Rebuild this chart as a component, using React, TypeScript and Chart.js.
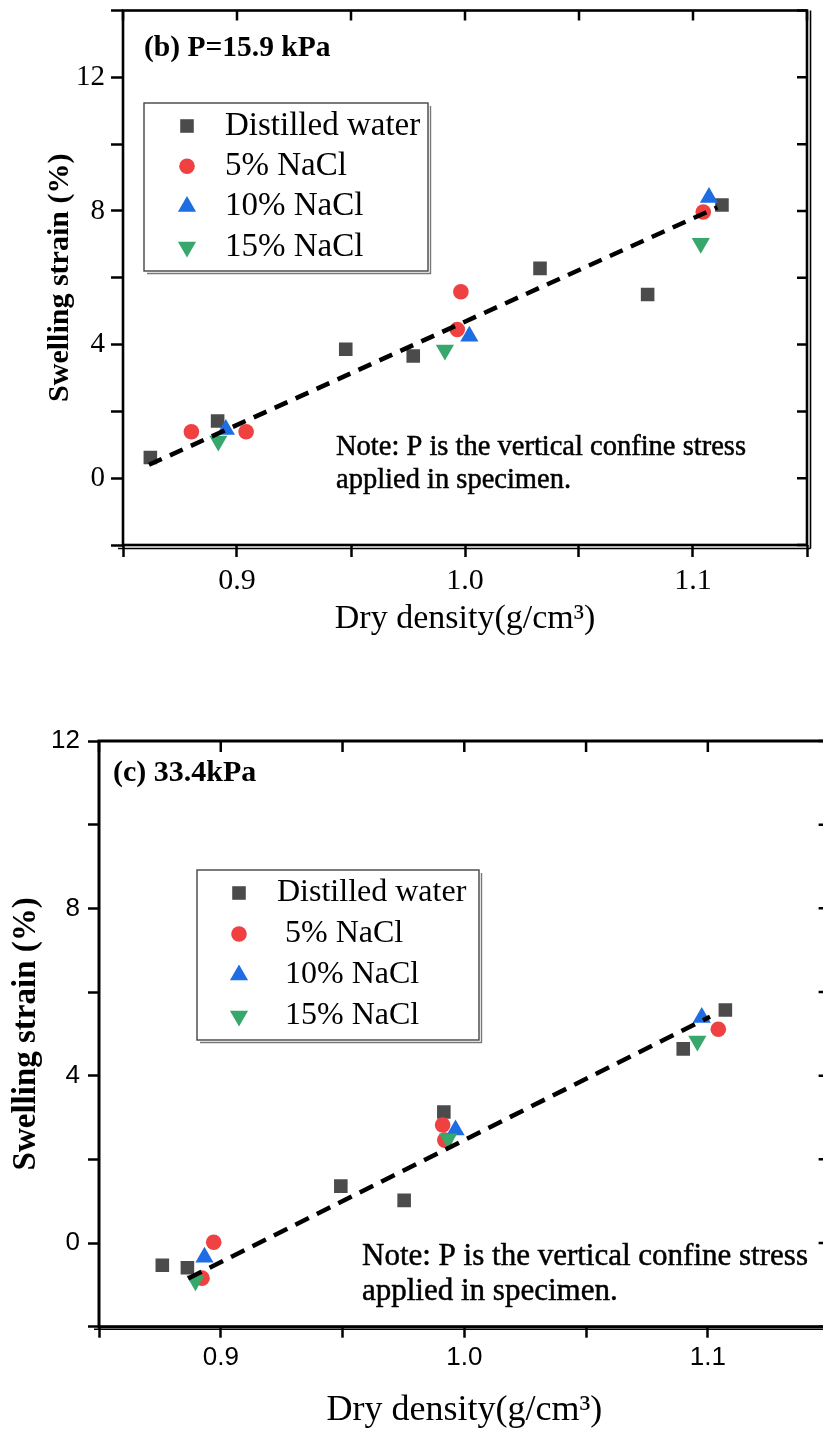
import React, { useEffect, useRef } from 'react';
import { Chart, registerables } from 'chart.js';

Chart.register(...registerables);

// ---------- Panel (b) P = 15.9 kPa ----------
const B_DW_X = [0.862, 0.8915, 0.9477, 0.9773, 1.0329, 1.0801, 1.1127];
const B_DW_Y = [0.62, 1.71, 3.86, 3.66, 6.28, 5.5, 8.18];
const B_N5_X = [0.880, 0.904, 0.9966, 0.9982, 1.1045];
const B_N5_Y = [1.39, 1.39, 4.45, 5.58, 7.97];
const B_N10_X = [0.8951, 1.0019, 1.107];
const B_N10_Y = [1.46, 4.25, 8.4];
const B_N15_X = [0.8918, 0.9912, 1.1034];
const B_N15_Y = [1.11, 3.84, 7.03];
const B_FIT_X = [0.8614, 1.1107];
const B_FIT_Y = [0.4, 8.11];
const B_LABELS = ['Distilled water', '5% NaCl', '10% NaCl', '15% NaCl'];

// ---------- Panel (c) 33.4 kPa ----------
const C_DW_X = [0.876, 0.8863, 0.9493, 0.9753, 0.9916, 1.0899, 1.1072];
const C_DW_Y = [-0.53, -0.59, 1.36, 1.02, 3.13, 4.64, 5.57];
const C_N5_X = [0.8923, 0.8971, 0.9911, 0.992, 1.1043];
const C_N5_Y = [-0.84, 0.02, 2.82, 2.46, 5.11];
const C_N10_X = [0.8933, 0.9964, 1.0975];
const C_N10_Y = [-0.34, 2.7, 5.39];
const C_N15_X = [0.8896, 0.9934, 1.0957];
const C_N15_Y = [-0.9, 2.49, 4.83];
const C_FIT_X = [0.8866, 1.1009];
const C_FIT_Y = [-0.85, 5.41];
const C_LABELS = ['Distilled water', ' 5% NaCl', ' 10% NaCl', ' 15% NaCl'];

// ---------- Axis ticks ----------
const X_MIN = 0.85;
const X_MAX = 1.15;
const X_STEP = 0.05;
const X_TICK_LABELS = ['0.9', '1.0', '1.1'];
const Y_STEP = 2;
const Y_TICK_LABELS = [0, 4, 8, 12];

const X_TITLE = 'Dry density(g/cm³)';
const Y_TITLE = 'Swelling strain (%)';
const NOTE_LINES = ['Note: P is the vertical confine stress', 'applied in specimen.'];

// ---------- styles ----------
const MARKERS = [
  { style: 'rect', radius: 9.6, rotation: 0, color: '#4b4b4b' },
  { style: 'circle', radius: 7.8, rotation: 0, color: '#ef4141' },
  { style: 'triangle', radius: 10.5, rotation: 0, color: '#1e6de2' },
  { style: 'triangle', radius: 10.5, rotation: 180, color: '#37a76b' },
];

const SERIF = '"Liberation Serif", "Times New Roman", serif';
const SANS = '"Liberation Sans", Arial, sans-serif';

type Panel = {
  w: number; h: number;
  area: { left: number; top: number; right: number; bottom: number };
  yMin: number; yMax: number;
  series: { x: number[]; y: number[] }[];
  labels: string[];
  fitX: number[]; fitY: number[];
  dash: number[];
  tickFont: { family: string; size: number };
  xTickFont: { family: string; size: number };
  yTickPad: number; xTickPad: number; outTick: number; inTick: number;
  xTitleSize: number; xTitlePadBottom: number;
  yTitleSize: number; yTitlePadTop: number;
  frameWidth: number; shadow: number;
  panelLabel: string; panelFont: string; panelX: number; panelY: number;
  legend: { x: number; y: number; w: number; h: number; markerX: number; textX: number; rowY: number; gap: number; font: string };
  note: { x: number; y: number; gap: number; font: string };
};

const PANEL_B: Panel = {
  w: 823, h: 660,
  area: { left: 123, top: 7, right: 807, bottom: 545 },
  yMin: -2, yMax: 14,
  series: [
    { x: B_DW_X, y: B_DW_Y },
    { x: B_N5_X, y: B_N5_Y },
    { x: B_N10_X, y: B_N10_Y },
    { x: B_N15_X, y: B_N15_Y },
  ],
  labels: B_LABELS,
  fitX: B_FIT_X, fitY: B_FIT_Y,
  dash: [14, 9],
  tickFont: { family: SERIF, size: 29 },
  xTickFont: { family: SERIF, size: 30 },
  yTickPad: 6, xTickPad: 6, outTick: 12, inTick: 10,
  xTitleSize: 34, xTitlePadBottom: 21,
  yTitleSize: 30, yTitlePadTop: 42,
  frameWidth: 2.6, shadow: 3.5,
  panelLabel: '(b) P=15.9 kPa', panelFont: `bold 29.5px ${SERIF}`, panelX: 144, panelY: 56,
  legend: { x: 144, y: 103, w: 284, h: 168, markerX: 187, textX: 225, rowY: 126, gap: 40.3, font: `33px ${SERIF}` },
  note: { x: 336, y: 455, gap: 33, font: `28.5px ${SERIF}` },
};

const PANEL_C: Panel = {
  w: 860, h: 734,
  area: { left: 99, top: 41, right: 829.6, bottom: 626.7 },
  yMin: -2, yMax: 12,
  series: [
    { x: C_DW_X, y: C_DW_Y },
    { x: C_N5_X, y: C_N5_Y },
    { x: C_N10_X, y: C_N10_Y },
    { x: C_N15_X, y: C_N15_Y },
  ],
  labels: C_LABELS,
  fitX: C_FIT_X, fitY: C_FIT_Y,
  dash: [15, 9],
  tickFont: { family: SANS, size: 26 },
  xTickFont: { family: SANS, size: 26 },
  yTickPad: 8, xTickPad: 5, outTick: 11, inTick: 11,
  xTitleSize: 36, xTitlePadBottom: 2,
  yTitleSize: 33, yTitlePadTop: 7,
  frameWidth: 3, shadow: 2.5,
  panelLabel: '(c) 33.4kPa', panelFont: `bold 30px ${SERIF}`, panelX: 113, panelY: 81,
  legend: { x: 197, y: 170, w: 282, h: 170, markerX: 239, textX: 277, rowY: 193, gap: 41, font: `32px ${SERIF}` },
  note: { x: 362, y: 565, gap: 35, font: `31px ${SERIF}` },
};

function drawMarker(ctx: CanvasRenderingContext2D, m: typeof MARKERS[number], x: number, y: number) {
  ctx.fillStyle = m.color;
  ctx.beginPath();
  if (m.style === 'rect') {
    const s = m.radius * Math.SQRT1_2;
    ctx.rect(x - s, y - s, 2 * s, 2 * s);
  } else if (m.style === 'circle') {
    ctx.arc(x, y, m.radius, 0, Math.PI * 2);
  } else {
    let rad = (m.rotation * Math.PI) / 180;
    ctx.moveTo(x + Math.sin(rad) * m.radius, y - Math.cos(rad) * m.radius);
    rad += (2 * Math.PI) / 3;
    ctx.lineTo(x + Math.sin(rad) * m.radius, y - Math.cos(rad) * m.radius);
    rad += (2 * Math.PI) / 3;
    ctx.lineTo(x + Math.sin(rad) * m.radius, y - Math.cos(rad) * m.radius);
    ctx.closePath();
  }
  ctx.fill();
}

function decorPlugin(p: Panel) {
  return {
    id: 'decor',
    afterDraw(chart: any) {
      const ctx: CanvasRenderingContext2D = chart.ctx;
      const a = chart.chartArea;
      const xs = chart.scales.x;
      const ys = chart.scales.y;
      ctx.save();
      ctx.strokeStyle = '#000';
      // frame
      ctx.lineWidth = p.frameWidth;
      ctx.strokeRect(a.left, a.top, a.right - a.left, a.bottom - a.top);
      ctx.lineWidth = 1.6;
      ctx.beginPath();
      ctx.moveTo(a.left - 5, a.bottom + p.shadow);
      ctx.lineTo(a.right + p.shadow, a.bottom + p.shadow);
      ctx.moveTo(a.right + p.shadow, a.top);
      ctx.lineTo(a.right + p.shadow, a.bottom + p.shadow);
      ctx.stroke();
      // inward ticks (top / right)
      ctx.lineWidth = 2.5;
      ctx.beginPath();
      xs.ticks.forEach((t: any) => {
        const px = xs.getPixelForValue(t.value);
        ctx.moveTo(px, a.top);
        ctx.lineTo(px, a.top + p.inTick);
      });
      ys.ticks.forEach((t: any) => {
        const py = ys.getPixelForValue(t.value);
        ctx.moveTo(a.right, py);
        ctx.lineTo(a.right - p.inTick, py);
      });
      ctx.stroke();
      // panel label
      ctx.fillStyle = '#000';
      ctx.textAlign = 'left';
      ctx.textBaseline = 'alphabetic';
      ctx.font = p.panelFont;
      ctx.fillText(p.panelLabel, p.panelX, p.panelY);
      // note
      ctx.font = p.note.font;
      ctx.lineWidth = 0.5;
      NOTE_LINES.forEach((line, i) => {
        const y = p.note.y + i * p.note.gap;
        ctx.fillText(line, p.note.x, y);
        ctx.strokeText(line, p.note.x, y);
      });
      // legend
      const L = p.legend;
      ctx.fillStyle = '#fff';
      ctx.fillRect(L.x, L.y, L.w, L.h);
      ctx.strokeStyle = '#444';
      ctx.lineWidth = 1.4;
      ctx.strokeRect(L.x, L.y, L.w, L.h);
      ctx.strokeStyle = '#777';
      ctx.lineWidth = 1.4;
      ctx.beginPath();
      ctx.moveTo(L.x + 3, L.y + L.h + 2.5);
      ctx.lineTo(L.x + L.w + 2.5, L.y + L.h + 2.5);
      ctx.lineTo(L.x + L.w + 2.5, L.y + 3);
      ctx.stroke();
      ctx.font = L.font;
      ctx.textBaseline = 'middle';
      p.labels.forEach((lab, i) => {
        const y = L.rowY + i * L.gap;
        drawMarker(ctx, MARKERS[i], L.markerX, y);
        ctx.fillStyle = '#000';
        ctx.fillText(lab, L.textX, y);
      });
      ctx.restore();
    },
  };
}

function makeChart(canvas: HTMLCanvasElement, p: Panel) {
  const datasets: any[] = [
    {
      type: 'line',
      label: 'fit',
      data: p.fitX.map((x, i) => ({ x, y: p.fitY[i] })),
      borderColor: '#000',
      borderWidth: 4.5,
      borderDash: p.dash,
      pointRadius: 0,
      fill: false,
      tension: 0,
      order: 0,
    },
  ];
  p.series.forEach((s, i) => {
    const m = MARKERS[i];
    datasets.push({
      type: 'scatter',
      label: p.labels[i],
      data: s.x.map((x, j) => ({ x, y: s.y[j] })),
      pointStyle: m.style,
      pointRadius: m.radius,
      pointRotation: m.rotation,
      backgroundColor: m.color,
      borderColor: m.color,
      borderWidth: 0,
      order: 4 - i,
    });
  });

  const zeroPad = (s: any) => {
    s.paddingTop = 0;
    s.paddingBottom = 0;
    s.paddingLeft = 0;
    s.paddingRight = 0;
  };

  return new Chart(canvas, {
    type: 'scatter',
    data: { datasets },
    options: {
      responsive: false,
      maintainAspectRatio: false,
      animation: false,
      events: [],
      layout: { padding: { left: 0, top: p.area.top, right: p.w - p.area.right, bottom: 0 } },
      plugins: { legend: { display: false }, tooltip: { enabled: false } },
      scales: {
        x: {
          type: 'linear',
          min: X_MIN,
          max: X_MAX,
          afterFit: (s: any) => {
            s.height = p.h - p.area.bottom;
            zeroPad(s);
          },
          border: { display: false },
          grid: { drawOnChartArea: false, drawTicks: true, tickLength: p.outTick, tickWidth: 2.5, tickColor: '#000' },
          ticks: {
            stepSize: X_STEP,
            autoSkip: false,
            maxRotation: 0,
            padding: p.xTickPad,
            color: '#000',
            font: p.xTickFont,
            callback: (v: any) => {
              const n = Number(v);
              const lab = n.toFixed(1);
              return Math.abs(n * 10 - Math.round(n * 10)) < 1e-6 && X_TICK_LABELS.includes(lab) ? lab : '';
            },
          },
          title: {
            display: true,
            text: X_TITLE,
            color: '#000',
            font: { family: SERIF, size: p.xTitleSize },
            padding: { top: 0, bottom: p.xTitlePadBottom },
          },
        },
        y: {
          type: 'linear',
          min: p.yMin,
          max: p.yMax,
          afterFit: (s: any) => {
            s.width = p.area.left;
            zeroPad(s);
          },
          border: { display: false },
          grid: { drawOnChartArea: false, drawTicks: true, tickLength: p.outTick, tickWidth: 2.5, tickColor: '#000' },
          ticks: {
            stepSize: Y_STEP,
            autoSkip: false,
            padding: p.yTickPad,
            color: '#000',
            font: p.tickFont,
            callback: (v: any) => {
              const n = Number(v);
              const r = Math.round(n);
              return Math.abs(n - r) < 1e-6 && Y_TICK_LABELS.includes(r) ? String(r) : '';
            },
          },
          title: {
            display: true,
            text: Y_TITLE,
            color: '#000',
            font: { family: SERIF, size: p.yTitleSize, weight: 'bold' },
            padding: { top: p.yTitlePadTop, bottom: 0 },
          },
        },
      },
    } as any,
    plugins: [decorPlugin(p)],
  });
}

export default function App() {
  const ref1 = useRef<HTMLCanvasElement>(null);
  const ref2 = useRef<HTMLCanvasElement>(null);

  useEffect(() => {
    const c1 = makeChart(ref1.current!, PANEL_B);
    const c2 = makeChart(ref2.current!, PANEL_C);
    return () => {
      c1.destroy();
      c2.destroy();
    };
  }, []);

  return (
    <div
      style={{
        position: 'fixed',
        left: 0,
        top: 0,
        width: 823,
        height: 1434,
        overflow: 'hidden',
        background: '#fff',
      }}
    >
      <canvas
        ref={ref1}
        width={PANEL_B.w}
        height={PANEL_B.h}
        style={{ position: 'absolute', left: 0, top: 0, width: PANEL_B.w, height: PANEL_B.h }}
      />
      <canvas
        ref={ref2}
        width={PANEL_C.w}
        height={PANEL_C.h}
        style={{ position: 'absolute', left: 0, top: 700, width: PANEL_C.w, height: PANEL_C.h }}
      />
    </div>
  );
}
